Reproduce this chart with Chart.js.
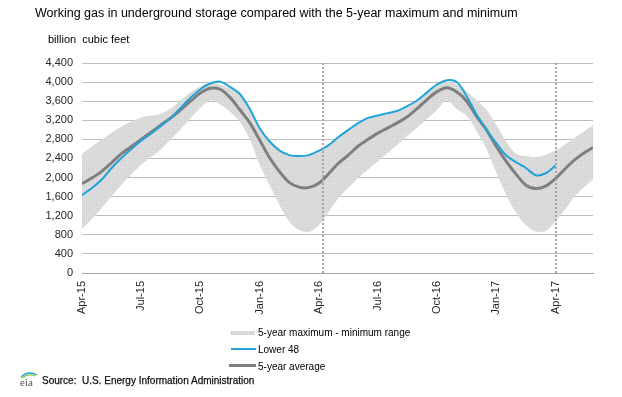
<!DOCTYPE html>
<html>
<head>
<meta charset="utf-8">
<script src="https://cdn.jsdelivr.net/npm/chart.js@4.4.0/dist/chart.umd.min.js"></script>
<style>
  html, body { margin: 0; padding: 0; background: #fff; }
  body { width: 622px; height: 397px; position: relative; overflow: hidden;
         font-family: "Liberation Sans", Arial, sans-serif; color: #000; }
  #chart { position: absolute; left: 0; top: 0; }
  .title { position: absolute; left: 35px; top: 6px; font-size: 12.5px; white-space: nowrap; }
  .unit { position: absolute; left: 48px; top: 33px; font-size: 11px; white-space: nowrap; }
  .legend { position: absolute; left: 229px; top: 324px; font-size: 10px; }
  .legend div { height: 17px; line-height: 17px; position: relative; padding-left: 29px; white-space: nowrap; }
  .legend i { position: absolute; top: 7px; display: block; }
  .sw-band { left: 2px; width: 24px; height: 4px; background: repeating-linear-gradient(90deg, #d0d0d0 0 1px, #e0e0e0 1px 2px); }
  .sw-blue { left: 2px; width: 25px; height: 2px; background: #1fa3d9; }
  .sw-avg { left: 0; width: 27px; height: 3px; background: #7f7f7f; top: 6px !important; }
  .source { position: absolute; left: 42px; top: 375px; font-size: 10px; white-space: nowrap; color: #111; -webkit-text-stroke: 0.25px #111; }
  .logo { position: absolute; left: 18px; top: 370px; }
</style>
</head>
<body>
<canvas id="chart" width="622" height="397"></canvas>
<div class="title">Working gas in underground storage compared with the 5-year maximum and minimum</div>
<div class="unit">billion&nbsp; cubic feet</div>
<div class="legend">
  <div><i class="sw-band"></i>5-year maximum - minimum range</div>
  <div><i class="sw-blue"></i>Lower 48</div>
  <div><i class="sw-avg"></i>5-year average</div>
</div>
<svg class="logo" width="22" height="18" viewBox="0 0 22 18">
  <path d="M3 7 Q10 0 19 5" stroke="#2a9fd6" stroke-width="1.4" fill="none"/>
  <path d="M4 8 Q10 3 17 6" stroke="#8cc63f" stroke-width="1.2" fill="none"/>
  <text x="2" y="16" font-family="Liberation Serif, serif" font-size="11" fill="#555">eia</text>
</svg>
<div class="source">Source:&nbsp; U.S. Energy Information Administration</div>
<script>
// x positions in months since Apr 2015
const months = [0, 0.5, 1, 1.5, 2, 2.5, 3, 3.5, 4, 4.5, 5, 5.5, 6, 6.5, 7, 7.5, 8, 8.5, 9, 9.5,
  10, 10.5, 11, 11.5, 12, 12.5, 13, 13.5, 14, 14.5, 15, 15.5, 16, 16.5, 17, 17.5, 18, 18.5, 19, 19.5,
  20, 20.5, 21, 21.5, 22, 22.5, 23, 23.5, 24, 24.5, 25, 25.5, 25.9];

const rangeMax = [2500, 2650, 2790, 2940, 3070, 3170, 3260, 3300, 3330, 3450, 3620, 3780, 3910, 3990, 3950, 3870,
  3730, 3420, 3020, 2740, 2550, 2450, 2430, 2450, 2540, 2660, 2830, 2980, 3120, 3230, 3280, 3330, 3380, 3480,
  3600, 3770, 3930, 4000, 3950, 3810, 3620, 3420, 3100, 2750, 2500, 2450, 2430, 2480, 2570, 2700, 2840, 2980, 3100];

const rangeMin = [920, 1130, 1360, 1610, 1850, 2070, 2270, 2430, 2590, 2800, 3010, 3240, 3460, 3620, 3530, 3380,
  3170, 2800, 2270, 1850, 1430, 1080, 900, 860, 1000, 1280, 1570, 1790, 1990, 2170, 2340, 2520, 2690, 2880,
  3050, 3230, 3420, 3620, 3430, 3300, 2970, 2600, 2100, 1640, 1260, 1000, 870, 880, 1080, 1340, 1620, 1820, 1960];

const avg5yr = [1870, 1990, 2130, 2310, 2500, 2650, 2800, 2950, 3100, 3250, 3420, 3600, 3770, 3870, 3850, 3680,
  3420, 3150, 2790, 2420, 2130, 1900, 1800, 1790, 1880, 2080, 2300, 2470, 2660, 2800, 2930, 3040, 3150, 3280,
  3450, 3640, 3800, 3880, 3790, 3600, 3280, 3000, 2650, 2340, 2070, 1840, 1770, 1820, 1980, 2190, 2380, 2530, 2630];

const lower48 = [1630, 1780, 1960, 2200, 2410, 2600, 2770, 2920, 3080, 3250, 3460, 3670, 3850, 3970, 4010, 3900,
  3750, 3440, 3040, 2760, 2570, 2470, 2450, 2470, 2560, 2680, 2850, 3000, 3140, 3250, 3300, 3350, 3400, 3500,
  3620, 3790, 3950, 4040, 4000, 3700, 3320, 3000, 2720, 2460, 2320, 2200, 2050, 2090, 2250, null, null, null, null];

const tickMonths = [0, 3, 6, 9, 12, 15, 18, 21, 24];
const tickLabels = ['Apr-15', 'Jul-15', 'Oct-15', 'Jan-16', 'Apr-16', 'Jul-16', 'Oct-16', 'Jan-17', 'Apr-17'];
const markerMonths = [12.2, 24];

function pts(vals) {
  return months.map((m, i) => ({ x: m, y: vals[i] }));
}

// stippled fill like the original range band
const pc = document.createElement('canvas');
pc.width = 2; pc.height = 2;
const pctx = pc.getContext('2d');
pctx.fillStyle = '#dddddd'; pctx.fillRect(0, 0, 2, 2);
pctx.fillStyle = '#d0d0d0'; pctx.fillRect(0, 0, 1, 1);
const bandFill = pctx.createPattern(pc, 'repeat');

const markerLines = {
  id: 'markerLines',
  afterDatasetsDraw(chart) {
    const { ctx, chartArea, scales } = chart;
    ctx.save();
    ctx.strokeStyle = '#a6a6a6';
    ctx.lineWidth = 2;
    ctx.setLineDash([2, 2]);
    markerMonths.forEach(m => {
      const x = Math.round(scales.x.getPixelForValue(m));
      ctx.beginPath();
      ctx.moveTo(x, chartArea.top);
      ctx.lineTo(x, chartArea.bottom);
      ctx.stroke();
    });
    ctx.restore();
  }
};

const tickFont = { family: 'Liberation Sans', size: 11 };

new Chart(document.getElementById('chart'), {
  type: 'line',
  data: {
    datasets: [
      { label: 'Lower 48', data: pts(lower48), borderColor: '#1fa3d9', borderWidth: 2,
        pointRadius: 0, tension: 0.3, fill: false, order: 0, spanGaps: false },
      { label: '5-year average', data: pts(avg5yr), borderColor: '#7f7f7f', borderWidth: 3,
        pointRadius: 0, tension: 0.3, fill: false, order: 1 },
      { label: '5-year maximum', data: pts(rangeMax), borderWidth: 0, borderColor: 'rgba(0,0,0,0)',
        backgroundColor: bandFill, pointRadius: 0, tension: 0.3, fill: '+1', order: 2 },
      { label: '5-year minimum', data: pts(rangeMin), borderWidth: 0, borderColor: 'rgba(0,0,0,0)',
        pointRadius: 0, tension: 0.3, fill: false, order: 3 }
    ]
  },
  options: {
    responsive: false,
    animation: false,
    devicePixelRatio: 1,
    layout: { padding: { top: 63, right: 29, bottom: 74, left: 0 } },
    plugins: { legend: { display: false }, tooltip: { enabled: false } },
    scales: {
      x: {
        type: 'linear',
        min: 0,
        max: 25.9,
        afterBuildTicks: scale => { scale.ticks = tickMonths.map(v => ({ value: v })); },
        afterFit: scale => { scale.height = 50; },
        ticks: {
          autoSkip: false,
          minRotation: 90,
          maxRotation: 90,
          padding: 8,
          color: '#262626',
          font: tickFont,
          callback: v => tickLabels[tickMonths.indexOf(v)]
        },
        grid: { display: false, drawTicks: false },
        border: { display: true, color: '#a6a6a6', width: 1 }
      },
      y: {
        min: 0,
        max: 4400,
        afterFit: scale => { scale.width = 82; },
        ticks: { stepSize: 400, padding: 9, color: '#262626', font: tickFont },
        grid: { color: '#bdbdbd', lineWidth: 1, drawTicks: false },
        border: { display: false }
      }
    }
  },
  plugins: [markerLines]
});
</script>
</body>
</html>
